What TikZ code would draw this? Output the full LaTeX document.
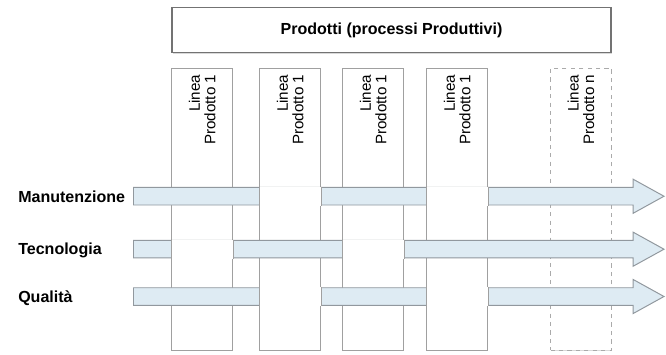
\documentclass[tikz,border=0pt]{standalone}
\usepackage{fontspec}
\setmainfont{Liberation Sans}
\usepackage{tikz}
\usetikzlibrary{positioning,shadows}
\definecolor{bandfill}{RGB}{222,235,243}
\definecolor{bandline}{RGB}{145,152,158}
\definecolor{colline}{RGB}{160,160,160}
\definecolor{dashline}{RGB}{170,170,170}
\definecolor{boxline}{RGB}{115,115,115}
\tikzset{
  linea/.style={draw=colline, line width=0.7pt, fill=white, minimum width=1.525cm, minimum height=7.05cm, inner sep=0pt},
  lineadash/.style={linea, draw=dashline, dashed, drop shadow={shadow xshift=0.6pt, shadow yshift=-0.6pt, opacity=0.3}},
  linetext/.style={rotate=90, anchor=east, align=right, inner sep=0pt, font=\fontsize{10.8}{11}\selectfont},
  band/.style={draw=bandline, fill=bandfill, line width=0.7pt},
  areatext/.style={anchor=base west, inner sep=0pt, font=\bfseries\fontsize{11.4}{13}\selectfont},
  topbox/.style={draw=boxline, line width=0.8pt, fill=white, minimum width=10.975cm, minimum height=1.125cm, font=\bfseries\fontsize{11.4}{13}\selectfont, drop shadow={shadow xshift=0.8pt, shadow yshift=-0.8pt, opacity=0.3}}
}

\begin{document}
\begin{tikzpicture}[scale=1.0]
    \useasboundingbox (0,0) rectangle (16.65,8.85);
    % Product lines
    \foreach \i/\x in {1/5.056,2/7.256,3/9.331,4/11.431}{
      \node[linea] (c\i) at (\x,3.625) {};
      \node[below=0.175cm of c\i.north, linetext] (t\i) {Linea\\Prodotto 1};
    }
    \node[lineadash] (c5) at (14.525,3.625) {};
    \node[below=0.175cm of c5.north, linetext] (t5) {Linea\\Prodotto n};
    % Horizontal arrows and their labels
    \foreach \n/\y/\txt in {man/3.944/Manutenzione, tec/2.62/Tecnologia, qua/1.4375/Qualità}{
      \coordinate (\n-t) at (3.3375,\y+0.24);
      \coordinate (\n-b) at (3.3375,\y-0.24);
      \draw[band] (3.3375,\y+0.219) -- (15.83,\y+0.219) -- (15.83,\y+0.425) -- (16.6,\y)
        -- (15.83,\y-0.425) -- (15.83,\y-0.219) -- (3.3375,\y-0.219) -- cycle;
      \node[areatext] (l\n) at (0.45,\y-0.144) {\txt};
    }
    % Lines passing over the arrows
    \foreach \col/\arr in {c2/man,c4/man,c1/tec,c3/tec,c2/qua,c4/qua}{
      \fill[white] (\col.west |- \arr-t) rectangle (\col.east |- \arr-b);
      \draw[colline, line width=0.7pt] (\col.west |- \arr-t) -- (\col.west |- \arr-b);
      \draw[colline, line width=0.7pt] (\col.east |- \arr-t) -- (\col.east |- \arr-b);
    }
    % Title box
    \node[topbox] (prod) at (9.7875,8.1) {Prodotti (processi Produttivi)};
\end{tikzpicture}
\end{document}
